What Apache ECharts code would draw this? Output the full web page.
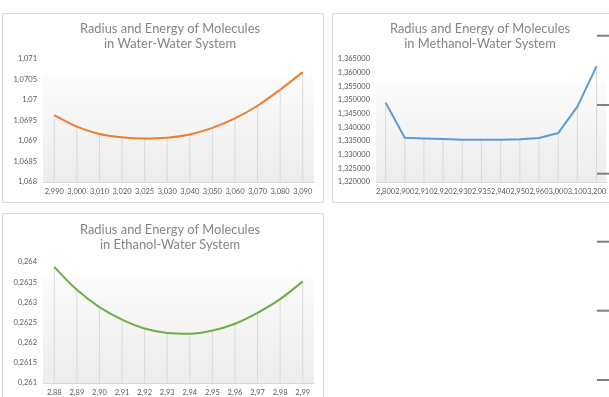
<!DOCTYPE html>
<html><head><meta charset="utf-8">
<script src="https://cdn.jsdelivr.net/npm/echarts@6/dist/echarts.min.js"></script>
<style>html,body{margin:0;padding:0;background:#fff}#c{width:609px;height:397px}</style>
</head><body><div id="c"></div>
<script>
const waterCats = ['2,990','3,000','3,010','3,020','3,025','3,030','3,040','3,050','3,060','3,070','3,080','3,090'];
const waterVals = [1.06963,1.06935,1.06917,1.06909,1.06906,1.06908,1.06916,1.06932,1.06955,1.06986,1.07025,1.07068];
const methCats = ['2,800','2,900','2,910','2,920','2,930','2,935','2,940','2,950','2,960','3,000','3,100','3,200'];
const methVals = [1.34904,1.33618,1.33595,1.33570,1.33544,1.33542,1.33542,1.33565,1.33607,1.33790,1.34757,1.36228];
const ethCats = ['2,88','2,89','2,90','2,91','2,92','2,93','2,94','2,95','2,96','2,97','2,98','2,99'];
const ethVals = [0.26388,0.26331,0.26288,0.26257,0.26235,0.26224,0.26222,0.26230,0.26247,0.26274,0.26308,0.26352];
const titles = ['Radius and Energy of Molecules\nin Water-Water System','Radius and Energy of Molecules\nin Methanol-Water System','Radius and Energy of Molecules\nin Ethanol-Water System'];

const FONT = 'Lato';
const gen = v => String(parseFloat(v.toFixed(6))).replace('.', ',');
const fix6 = v => v.toFixed(6).replace('.', ',');
function bg(stop){return {type:'linear',x:0,y:0,x2:0,y2:1,colorStops:[{offset:0,color:'#ffffff'},{offset:stop,color:'#ffffff'},{offset:stop+0.01,color:'#fbfbfb'},{offset:1,color:'#ededed'}]};}
const grids = [
  {left:43, top:59, width:271, height:123, show:true, borderWidth:0, backgroundColor:bg(0.14)},
  {left:376, top:59, width:232, height:123, show:true, borderWidth:0, backgroundColor:bg(0.18)},
  {left:43, top:262, width:271, height:121, show:true, borderWidth:0, backgroundColor:bg(0.12)}
];
const cats=[waterCats,methCats,ethCats], vals=[waterVals,methVals,ethVals];
const yCfg=[{min:1.068,max:1.071,interval:0.0005,f:gen},{min:1.32,max:1.365,interval:0.005,f:fix6},{min:0.261,max:0.264,interval:0.0005,f:gen}];
const colors=['#ED7D31','#5B9BD5','#70AD47'];
const smooth=[0.35,false,0.35];
const xAxis=[],yAxis=[],series=[];
for(let i=0;i<3;i++){
  xAxis.push({type:'category',gridIndex:i,data:cats[i],boundaryGap:true,
    axisLine:{show:true,lineStyle:{color:'#d9d9d9'}},axisTick:{show:false},
    axisLabel:{interval:0,fontFamily:FONT,fontSize:7.5,color:'#595959',margin:6}});
  yAxis.push({type:'value',gridIndex:i,min:yCfg[i].min,max:yCfg[i].max,interval:yCfg[i].interval,
    splitLine:{show:false},axisLine:{show:false},axisTick:{show:false},
    axisLabel:{fontFamily:FONT,fontSize:7.5,color:'#595959',margin:6,formatter:yCfg[i].f}});
  series.push({type:'bar',xAxisIndex:i,yAxisIndex:i,data:vals[i],barWidth:1,itemStyle:{color:'#d9d9d9'},silent:true,z:1});
  series.push({type:'line',xAxisIndex:i,yAxisIndex:i,data:vals[i],smooth:smooth[i],showSymbol:false,
    lineStyle:{color:colors[i],width:2},z:3});
}
const title=[
  {text:titles[0],left:165,top:16,textAlign:'center'},
  {text:titles[1],left:475,top:16,textAlign:'center'},
  {text:titles[2],left:165,top:217,textAlign:'center'}
].map(t=>Object.assign(t,{textStyle:{fontFamily:FONT,fontSize:12.9,fontWeight:'normal',color:'#858585',lineHeight:15}}));
const dashes=[35.7,105,173.7,241.7,310.7,380].map(y=>({type:'line',shape:{x1:597,y1:y,x2:609,y2:y},style:{stroke:'#7f7f7f',lineWidth:2},z:100}));
const graphic=[
  {type:'rect',shape:{x:2.5,y:13.5,width:321,height:189},style:{fill:'none',stroke:'#d9d9d9',lineWidth:1},z:-1},
  {type:'rect',shape:{x:332.5,y:13.5,width:280,height:189},style:{fill:'none',stroke:'#d9d9d9',lineWidth:1},z:-1},
  {type:'rect',shape:{x:2.5,y:213.5,width:321,height:200},style:{fill:'none',stroke:'#d9d9d9',lineWidth:1},z:-1}
].concat(dashes);
const chart=echarts.init(document.getElementById('c'));
chart.setOption({animation:false,backgroundColor:'#fff',title,grid:grids,xAxis,yAxis,series,graphic});
</script></body></html>
